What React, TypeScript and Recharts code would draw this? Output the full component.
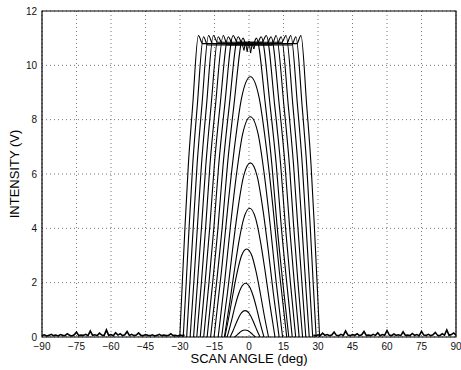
import React from "react";
import {
  LineChart,
  Line,
  XAxis,
  YAxis,
  CartesianGrid,
  ReferenceArea,
  Label,
} from "recharts";

const xTicks = [-90, -75, -60, -45, -30, -15, 0, 15, 30, 45, 60, 75, 90];
const yTicks = [0, 2, 4, 6, 8, 10, 12];

// low-power sweeps that never reach the detector ceiling: [angle, volts]
const sweep1 = [[-6.2, 0], [-5.3, 0.07], [-4.5, 0.13], [-3.6, 0.2], [-2.8, 0.24], [-1.7, 0.26], [-0.6, 0.24], [0.2, 0.2], [1.1, 0.13], [1.9, 0.07], [2.8, 0]];
const sweep2 = [[-8.2, 0], [-6.9, 0.24], [-5.7, 0.49], [-4.4, 0.73], [-3.3, 0.89], [-1.7, 0.97], [-0.1, 0.89], [1.0, 0.73], [2.3, 0.49], [3.5, 0.24], [4.8, 0]];
const sweep3 = [[-9.5, 0], [-7.9, 0.5], [-6.5, 0.99], [-4.9, 1.49], [-3.4, 1.82], [-1.5, 1.98], [0.4, 1.82], [1.9, 1.49], [3.5, 0.99], [4.9, 0.5], [6.5, 0]];
const sweep4 = [[-10.5, 0], [-8.6, 0.81], [-6.9, 1.62], [-5.0, 2.43], [-3.3, 2.98], [-1.0, 3.24], [1.3, 2.98], [3.0, 2.43], [4.9, 1.62], [6.6, 0.81], [8.5, 0]];
const sweep5 = [[-10.7, 0], [-8.5, 1.19], [-6.5, 2.37], [-4.3, 3.56], [-2.3, 4.36], [0.3, 4.74], [2.9, 4.36], [4.9, 3.56], [7.1, 2.37], [9.1, 1.19], [11.3, 0]];
const sweep6 = [[-11.9, 0], [-9.4, 1.6], [-7.15, 3.21], [-4.65, 4.81], [-2.4, 5.9], [0.6, 6.41], [3.6, 5.9], [5.85, 4.81], [8.35, 3.21], [10.6, 1.6], [13.1, 0]];
const sweep7 = [[-13.4, 0], [-10.6, 2.03], [-8.1, 4.06], [-5.3, 6.08], [-2.8, 7.46], [0.6, 8.11], [4.0, 7.46], [6.5, 6.08], [9.3, 4.06], [11.8, 2.03], [14.6, 0]];
const sweep8 = [[-15.2, 0], [-12.0, 2.4], [-9.2, 4.79], [-6.0, 7.19], [-3.2, 8.81], [0.6, 9.58], [4.4, 8.81], [7.2, 7.19], [10.4, 4.79], [13.2, 2.4], [16.4, 0]];

// saturated sweeps: half-width (deg) of each edge at the levels below
const satCenter = 0.3;
const satLevels = [0, 2, 4.1, 6.3, 8.5];
const satFoot = [17.0, 18.5, 20.0, 21.5, 23.0, 24.4, 25.9, 27.4, 28.9, 30.4];
const satAt2 = [14.4, 16.1, 17.7, 19.4, 21.0, 22.7, 24.3, 26.0, 27.6, 29.3];
const satAt4 = [11.9, 13.7, 15.5, 17.3, 19.1, 20.9, 22.7, 24.5, 26.3, 28.1];
const satAt6 = [9.7, 11.6, 13.5, 15.4, 17.3, 19.1, 21.0, 22.9, 24.8, 26.7];
const satAt8 = [6.9, 8.9, 10.9, 12.9, 14.9, 16.8, 18.8, 20.8, 22.8, 24.8];
const satCorner = [2.9, 5.0, 7.2, 9.3, 11.5, 13.7, 15.8, 17.9, 20.1, 22.3];
const satPeak = [11.0, 11.05, 11.1, 11.05, 11.1, 11.05, 11.1, 11.1, 11.05, 11.1];
const satFlat = [10.75, 10.8, 10.85, 10.8, 10.75, 10.8, 10.85, 10.8, 10.75, 10.8];

// ringing in the middle of the clipped tops
const topAngles = [-3, -2.2, -1.5, -0.8, 0, 0.7, 1.4, 2.1, 2.8];
const topVolts = [10.8, 10.55, 10.85, 10.5, 10.9, 10.45, 10.8, 10.6, 10.8];

// detector noise floor, one sample per degree outside the beam
const floorLeftFrom = -90;
const floorLeft = [
  0.05, 0.08, 0.04, 0.06, 0.1, 0.05, 0.07, 0.04, 0.09, 0.06,
  0.05, 0.12, 0.06, 0.04, 0.08, 0.18, 0.05, 0.07, 0.06, 0.1,
  0.05, 0.22, 0.06, 0.08, 0.05, 0.14, 0.07, 0.05, 0.26, 0.06,
  0.09, 0.05, 0.16, 0.07, 0.12, 0.05, 0.08, 0.2, 0.06, 0.1,
  0.05, 0.07, 0.15, 0.06, 0.05, 0.09, 0.06, 0.05, 0.08, 0.04,
  0.06, 0.1, 0.05, 0.07, 0.05, 0.06, 0.12, 0.05, 0.06, 0.04,
  0.07, 0.05, 0.06,
];
const floorRightFrom = 28;
const floorRight = [
  0.06, 0.05, 0.08, 0.05, 0.14, 0.06, 0.09, 0.05, 0.07, 0.18,
  0.06, 0.05, 0.1, 0.06, 0.22, 0.07, 0.05, 0.09, 0.06, 0.12,
  0.05, 0.08, 0.2, 0.06, 0.07, 0.05, 0.1, 0.06, 0.16, 0.05,
  0.09, 0.06, 0.24, 0.07, 0.05, 0.11, 0.06, 0.08, 0.05, 0.19,
  0.06, 0.07, 0.05, 0.13, 0.06, 0.09, 0.05, 0.21, 0.07, 0.06,
  0.1, 0.05, 0.08, 0.17, 0.06, 0.05, 0.12, 0.07, 0.26, 0.06,
  0.09, 0.15, 0.07,
];

const lowSweeps = [sweep1, sweep2, sweep3, sweep4, sweep5, sweep6, sweep7, sweep8].map((s) =>
  s.map(([a, v]) => ({ a, v }))
);

const satSweeps = satFoot.map((_, i) => {
  const half = [satFoot[i], satAt2[i], satAt4[i], satAt6[i], satAt8[i]];
  const c = satCorner[i];
  const d = Math.min(1.8, c * 0.5);
  const left = half.map((h, j) => ({ a: satCenter - h, v: satLevels[j] }));
  const right = half.map((h, j) => ({ a: satCenter + h, v: satLevels[j] })).reverse();
  return [
    ...left,
    { a: satCenter - c, v: satPeak[i] },
    { a: satCenter - c + d, v: satFlat[i] },
    { a: satCenter + c - d, v: satFlat[i] },
    { a: satCenter + c, v: satPeak[i] },
    ...right,
  ];
});

const topRing = topAngles.map((a, i) => ({ a, v: topVolts[i] }));
const noiseLeft = floorLeft.map((v, i) => ({ a: floorLeftFrom + i, v }));
const noiseRight = floorRight.map((v, i) => ({ a: floorRightFrom + i, v }));

const font = "'Liberation Sans', Arial, Helvetica, sans-serif";
const fmt = (v: number) => (v < 0 ? "\u2212" + Math.abs(v) : String(v));

export default function App() {
  return (
    <div style={{ position: "absolute", left: 0, top: 0, width: 461, height: 370, background: "#fff", fontFamily: font }}>
      <LineChart width={461} height={370} margin={{ top: 11, right: 5, bottom: 0, left: 0 }}>
        <CartesianGrid stroke="#777" strokeDasharray="1 3" />
        <XAxis
          type="number"
          dataKey="a"
          domain={[-90, 90]}
          ticks={xTicks}
          tickFormatter={fmt}
          allowDataOverflow
          height={33}
          axisLine={false}
          tickLine={false}
          tickSize={4}
          tickMargin={2}
          tick={{ fill: "#111", fontSize: 10, fontFamily: font }}
        >
          <Label
            content={() => (
              <text x={249} y={363} textAnchor="middle" fontSize={13} fontFamily={font} fill="#000">
                SCAN ANGLE (deg)
              </text>
            )}
          />
        </XAxis>
        <YAxis
          type="number"
          domain={[0, 12]}
          ticks={yTicks}
          allowDataOverflow
          width={42}
          axisLine={false}
          tickLine={false}
          tickSize={3}
          tickMargin={2}
          tick={{ fill: "#111", fontSize: 10, fontFamily: font }}
        >
          <Label
            content={() => (
              <text
                x={19}
                y={174}
                transform="rotate(-90 19 174)"
                textAnchor="middle"
                fontSize={13}
                fontFamily={font}
                fill="#000"
              >
                INTENSITY (V)
              </text>
            )}
          />
        </YAxis>
        <Line data={noiseLeft} dataKey="v" stroke="#000" strokeWidth={1.6} dot={false} activeDot={false} isAnimationActive={false} />
        <Line data={noiseRight} dataKey="v" stroke="#000" strokeWidth={1.6} dot={false} activeDot={false} isAnimationActive={false} />
        {lowSweeps.map((s, i) => (
          <Line key={"low" + i} data={s} dataKey="v" type="monotone" stroke="#000" strokeWidth={1.1} dot={false} activeDot={false} isAnimationActive={false} />
        ))}
        {satSweeps.map((s, i) => (
          <Line key={"sat" + i} data={s} dataKey="v" type="monotone" stroke="#000" strokeWidth={1.1} dot={false} activeDot={false} isAnimationActive={false} />
        ))}
        <Line data={topRing} dataKey="v" stroke="#000" strokeWidth={1} dot={false} activeDot={false} isAnimationActive={false} />
        <ReferenceArea x1={-90} x2={90} y1={0} y2={12} fill="none" stroke="#000" strokeWidth={1.2} />
      </LineChart>
    </div>
  );
}
